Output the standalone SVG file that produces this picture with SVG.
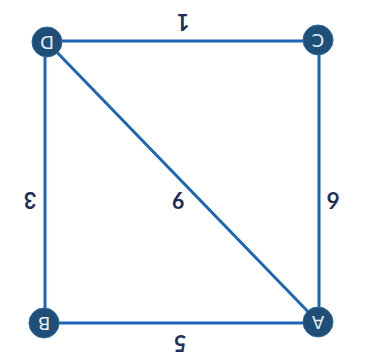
<svg xmlns="http://www.w3.org/2000/svg" width="366" height="360" viewBox="0 0 366 360">
<style>
.edge{stroke:#1c66b8;stroke-width:3;fill:none}
.node circle{fill:#1f4f78;stroke:#2b6a9a;stroke-width:1}
.node text{fill:#e8eef4;font-family:"DejaVu Sans",sans-serif;font-size:18px;text-anchor:middle;dominant-baseline:central}
.lbl{fill:#1f2f5c;font-family:"Lato","DejaVu Sans",sans-serif;font-size:22px;font-weight:bold;text-anchor:middle;dominant-baseline:central}
</style>
<rect width="366" height="360" fill="#ffffff"/>
<g id="connectors">
<line class="edge" x1="47" y1="41" x2="318" y2="41"/>
<line class="edge" x1="45" y1="42" x2="45" y2="323"/>
<line class="edge" x1="319" y1="40" x2="319" y2="322"/>
<line class="edge" x1="44" y1="323" x2="318" y2="323"/>
<line class="edge" x1="47" y1="42" x2="318" y2="322"/>
</g>
<g id="labels">
<text class="lbl" transform="translate(183,22) rotate(180)">1</text>
<text class="lbl" transform="translate(30,200) rotate(180)">3</text>
<text class="lbl" transform="translate(178,200) rotate(180)">9</text>
<text class="lbl" transform="translate(333,200) rotate(180)">6</text>
<text class="lbl" transform="translate(180,343) rotate(180)">5</text>
</g>
<g id="node-D" class="node"><circle cx="47" cy="42" r="15"/><text transform="translate(47,42) rotate(180)">D</text></g>
<g id="node-C" class="node"><circle cx="318" cy="40" r="15"/><text transform="translate(318,40) rotate(180)">C</text></g>
<g id="node-B" class="node"><circle cx="44" cy="323" r="15"/><text transform="translate(44,323) rotate(180)">B</text></g>
<g id="node-A" class="node"><circle cx="318" cy="322" r="15"/><text transform="translate(318,322) rotate(180)">A</text></g>
</svg>
